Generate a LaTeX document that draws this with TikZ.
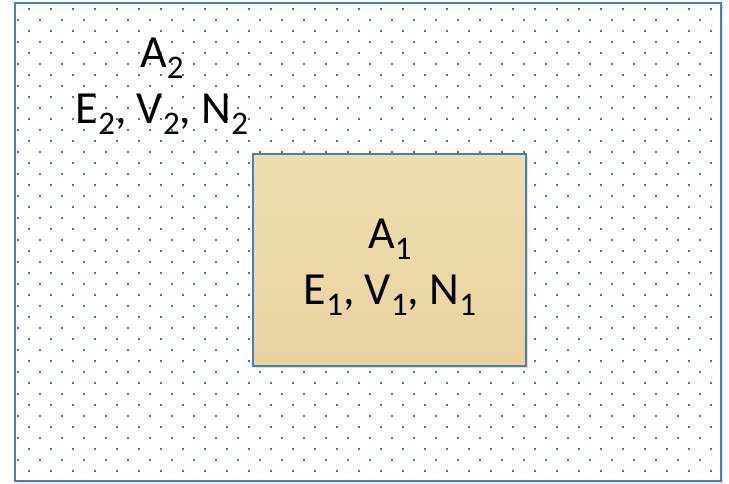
\documentclass[tikz,border=0pt]{standalone}
\usepackage{fontspec}
\setmainfont{Carlito}
\usetikzlibrary{shadows}

\definecolor{frameblue}{RGB}{74,126,187}
\definecolor{dotblue}{RGB}{68,114,196}
\definecolor{papyrustop}{RGB}{237,222,176}
\definecolor{papyrusbottom}{RGB}{233,212,158}

\newcommand{\sbs}[1]{\raisebox{-11pt}{\fontsize{33}{33}\selectfont #1}}

\begin{document}
\begin{tikzpicture}[
  x=1pt, y=-1pt,
  frame/.style={draw=frameblue, line width=1.6pt},
  region/.style={frame, drop shadow={shadow xshift=2pt, shadow yshift=-2pt, opacity=0.25}},
  label/.style={align=center, font=\fontsize{46}{56}\selectfont, inner sep=0pt}
]

\useasboundingbox (0,0) rectangle (729,483);

% outer region
\node[region, fill=white, minimum width=706pt, minimum height=478pt, inner sep=0pt]
  (outer) at (368,242) {};

% dotted fill of the outer region
\begin{scope}
  \clip (15,3) rectangle (721,481);
  \foreach \j in {0,...,42} {
    \pgfmathsetmacro{\yy}{9+11*\j}
    \pgfmathsetmacro{\xo}{isodd(\j) ? 18 : 29}
    \foreach \i in {0,...,32}
      \fill[dotblue] ({\xo+22*\i-1.3},{\yy-1.3}) rectangle ++(2.6,2.6);
  }
\end{scope}
\draw[frame] (15,3) rectangle (721,481);

% inner region
\node[region, top color=papyrustop, bottom color=papyrusbottom,
      minimum width=273pt, minimum height=212pt, inner sep=0pt]
  (inner) at (389.5,260) {};
\node[label] (innertext) at (390,267) {A\sbs{1}\\E\sbs{1}, V\sbs{1}, N\sbs{1}};

% outer region text
\node[label] (outertext) at (162,86) {A\sbs{2}\\E\sbs{2}, V\sbs{2}, N\sbs{2}};

\end{tikzpicture}
\end{document}
